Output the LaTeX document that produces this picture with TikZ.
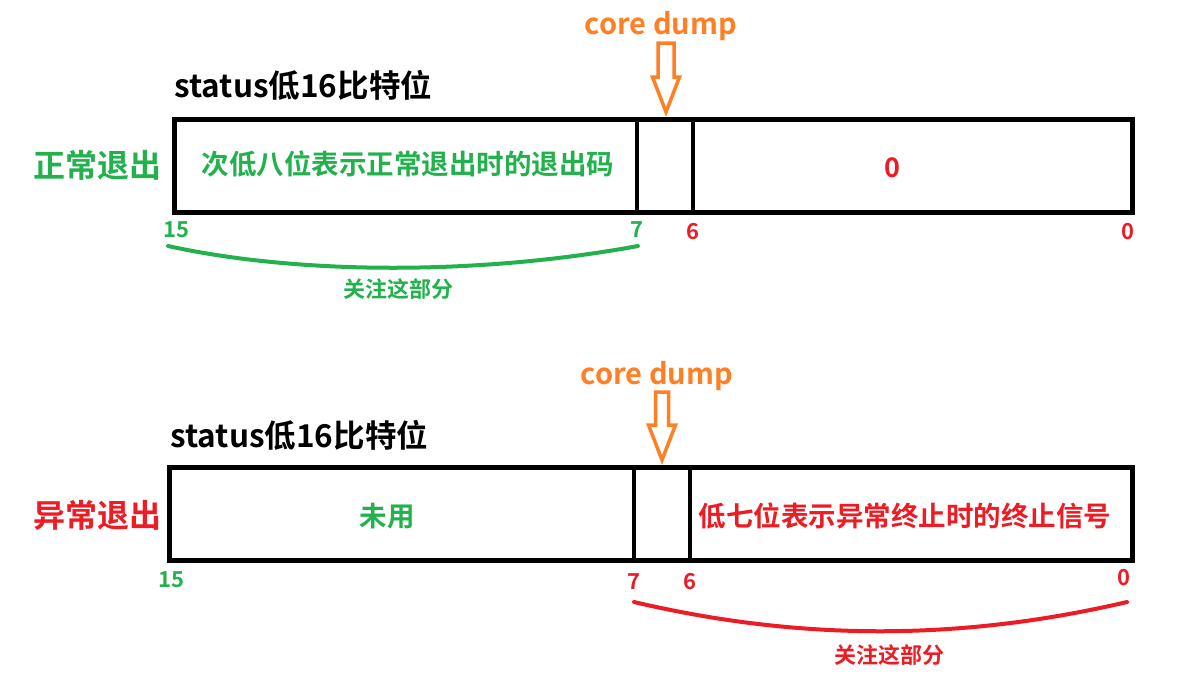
\documentclass[tikz,border=0pt]{standalone}
\usepackage{fontspec}
\setmainfont{Noto Sans CJK SC}[BoldFont={* Bold}]
\usepackage{tikz}
\usetikzlibrary{positioning, calc}
\definecolor{paintgreen}{HTML}{22B14C}
\definecolor{paintred}{HTML}{ED1C24}
\definecolor{paintorange}{HTML}{FF7F27}
\newcommand{\fs}[1]{\fontsize{#1}{#1}\selectfont\bfseries}

\tikzset{
  register/.style={draw=black, line width=4.5pt, inner sep=0pt, minimum height=93pt, anchor=north west},
  divider/.style={draw=black, line width=4.5pt},
  bitno/.style={font=\fs{22}, inner sep=0pt},
  focus/.style={line width=4pt, line cap=round},
  dumparrow/.style={draw=paintorange, line width=3.5pt, fill=white, line join=miter}
}

\begin{document}
\begin{tikzpicture}[x=1pt, y=-1pt]
  \useasboundingbox (0,0) rectangle (1202,675);

  % normal exit
  \node[font=\fs{31.5}, anchor=west] (title1) at (171,85) {status低16比特位};
  \node[register, minimum width=958pt] (reg1) at (172,117) {};
  \draw[divider] ($(reg1.north west)+(465,0)$) coordinate (d1a) -- ($(reg1.south west)+(465,0)$);
  \draw[divider] ($(reg1.north west)+(521,0)$) coordinate (d1b) -- ($(reg1.south west)+(521,0)$);
  \node[font=\fs{32}, text=paintgreen] (kind1) at (97,165) {正常退出};
  \node[font=\fs{27.5}, text=paintgreen] (desc1) at (408,164) {次低八位表示正常退出时的退出码};
  \node[font=\fs{27}, text=paintred] (zero1) at (892,168) {0};
  \node[bitno, text=paintgreen] (b15a) at (176,230) {15};
  \node[bitno, text=paintgreen] (b7a) at (637,230) {7};
  \node[bitno, text=paintred] (b6a) at (693,232) {6};
  \node[bitno, text=paintred] (b0a) at (1128,232) {0};
  \coordinate (fa) at (168,246);
  \coordinate (fb) at (638,246);
  \draw[focus, paintgreen] (fa) .. controls (300,275) and (480,275) .. (fb);
  \node[font=\fs{22}, text=paintgreen] (note1) at (398,289) {关注这部分};
  \node[font=\fs{29}, text=paintorange] (dump1) at (661,26) {core dump};
  \coordinate (tip1) at (666,112);
  \draw[dumparrow] (tip1) -- ++(-13.5,-35) -- ++(5.5,0) -- ++(0,-34) -- ++(16,0)
    -- ++(0,34) -- ++(5.5,0) -- cycle;

  % abnormal exit
  \node[font=\fs{31.5}, anchor=west] (title2) at (167,435) {status低16比特位};
  \node[register, minimum width=963pt] (reg2) at (167,465) {};
  \draw[divider] ($(reg2.north west)+(467,0)$) coordinate (d2a) -- ($(reg2.south west)+(467,0)$);
  \draw[divider] ($(reg2.north west)+(523,0)$) coordinate (d2b) -- ($(reg2.south west)+(523,0)$);
  \node[font=\fs{32}, text=paintred] (kind2) at (97,515) {异常退出};
  \node[font=\fs{27.5}, text=paintgreen] (desc2) at (387,516) {未用};
  \node[font=\fs{27.5}, text=paintred] (desc3) at (905,516) {低七位表示异常终止时的终止信号};
  \node[bitno, text=paintgreen] (b15b) at (171,580) {15};
  \node[bitno, text=paintred] (b7b) at (634,582) {7};
  \node[bitno, text=paintred] (b6b) at (690,582) {6};
  \node[bitno, text=paintred] (b0b) at (1124,578) {0};
  \coordinate (fc) at (634,602);
  \coordinate (fd) at (1127,602);
  \draw[focus, paintred] (fc) .. controls (800,641) and (960,641) .. (fd);
  \node[font=\fs{22}, text=paintred] (note2) at (889,655) {关注这部分};
  \node[font=\fs{29}, text=paintorange] (dump2) at (657,376) {core dump};
  \coordinate (tip2) at (662,460);
  \draw[dumparrow] (tip2) -- ++(-13.5,-35) -- ++(7,0) -- ++(0,-33) -- ++(13,0)
    -- ++(0,33) -- ++(7,0) -- cycle;
\end{tikzpicture}
\end{document}
